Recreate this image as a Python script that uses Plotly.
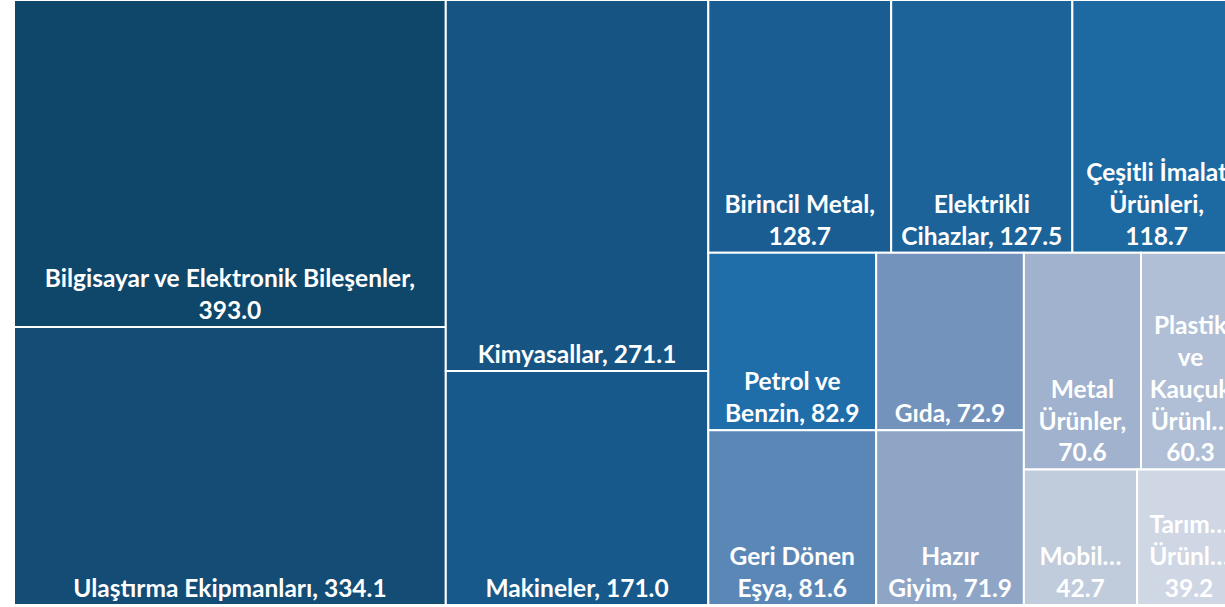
import plotly.graph_objects as go

categories = [
    "Bilgisayar ve Elektronik Bileşenler", "Ulaştırma Ekipmanları", "Kimyasallar",
    "Makineler", "Birincil Metal", "Elektrikli Cihazlar", "Çeşitli İmalat Ürünleri",
    "Petrol ve Benzin", "Geri Dönen Eşya", "Gıda", "Hazır Giyim", "Metal Ürünler",
    "Plastik ve Kauçuk Ürünleri", "Mobilya", "Tarım Ürünleri",
]
values = [393.0, 334.1, 271.1, 171.0, 128.7, 127.5, 118.7, 82.9, 81.6,
          72.9, 71.9, 70.6, 60.3, 42.7, 39.2]
# label text as it is wrapped / shortened in the picture
shown_names = [
    "Bilgisayar ve Elektronik Bileşenler,<br>", "Ulaştırma Ekipmanları, ", "Kimyasallar, ",
    "Makineler, ", "Birincil Metal,<br>", "Elektrikli<br>Cihazlar, ", "Çeşitli İmalat<br>Ürünleri,<br>",
    "Petrol ve<br>Benzin, ", "Geri Dönen<br>Eşya, ", "Gıda, ", "Hazır<br>Giyim, ", "Metal<br>Ürünler,<br>",
    "Plastik<br>ve<br>Kauçuk<br>Ürünl…<br>", "Mobil…<br>", "Tarım…<br>Ürünl…<br>",
]
colors = [
    "#0F476B", "#134C75", "#165483", "#17598B", "#1A5D92", "#1B6399", "#1D69A1",
    "#1F6EAA", "#5B87B6", "#7493BC", "#8EA5C6", "#A0B2CD", "#B0BFD6", "#C0CBDC", "#CFD7E4",
]

texts = [f"{n}{v:.1f}" for n, v in zip(shown_names, values)]

fig = go.Figure(go.Treemap(
    labels=categories,
    parents=[""] * len(categories),
    values=values,
    text=texts,
    textinfo="text",
    textposition="bottom center",
    textfont=dict(family="Lato", size=24.5, color="white", weight="bold"),
    marker=dict(colors=colors, line=dict(color="white", width=2),
                pad=dict(t=0, l=0, r=0, b=0)),
    tiling=dict(packing="squarify", squarifyratio=1.17, pad=0),
    pathbar=dict(visible=False),
    sort=True,
    hoverinfo="skip",
))

fig.update_layout(
    width=1242, height=607,
    margin=dict(l=14, r=1, t=0, b=2),
    paper_bgcolor="white",
    uniformtext=dict(minsize=24.5, mode="show"),
    font=dict(family="Lato"),
)

fig.write_html(
    "out.html",
    config={"displayModeBar": False},
    post_script="document.body.style.margin='0';document.body.style.overflow='hidden';"
                "document.documentElement.style.overflow='hidden';",
)
